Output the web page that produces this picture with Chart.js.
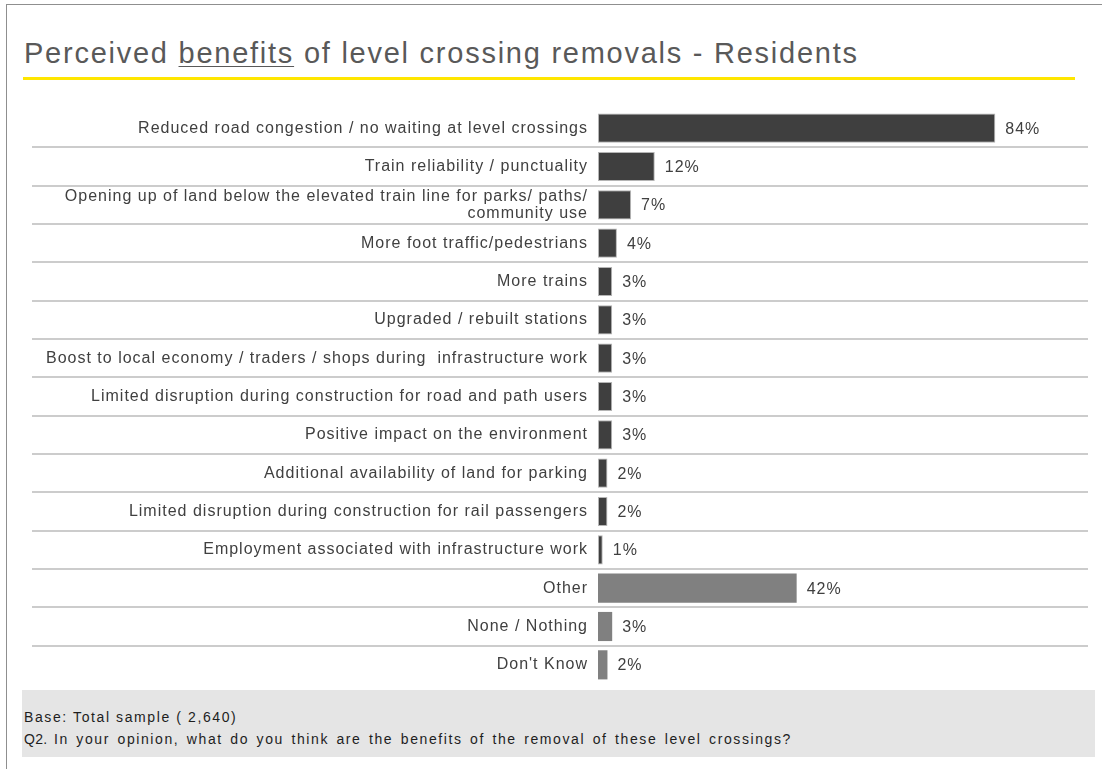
<!DOCTYPE html>
<html lang="en">
<head>
  <meta charset="UTF-8">
  <title>Perceived benefits of level crossing removals - Residents</title>
  <script src="https://cdn.jsdelivr.net/npm/chart.js"></script>
  <style>
    html, body { margin: 0; padding: 0; background: #fff; overflow: hidden; }
    body { width: 1102px; height: 769px; position: relative; font-family: "Liberation Sans", Arial, sans-serif; }
    .frame { position: absolute; left: 6px; top: 4px; width: 1200px; height: 900px; border-left: 1px solid #8f8f8f; border-top: 1px solid #8f8f8f; }
    .title { position: absolute; left: 24px; top: 37px; font-size: 29px; letter-spacing: 1.75px; color: #595959; white-space: nowrap; }
    .title u { text-decoration-thickness: 1px; text-underline-offset: 3px; }
    .rule { position: absolute; left: 23px; top: 77px; width: 1052px; height: 3px; background: #ffe600; }
    .note { position: absolute; left: 22px; top: 690px; width: 1073px; height: 67px; background: #e5e5e5; font-size: 14px; letter-spacing: 1.6px; color: #1e1e1e; }
    .note div { position: absolute; left: 2px; white-space: nowrap; }
    .note .q { word-spacing: 2px; }
    .note span { display: inline-block; width: 30px; letter-spacing: 0.3px; }
    #chart { position: absolute; left: 0; top: 0; }
  </style>
</head>
<body>
  <div class="frame"></div>
  <div class="title">Perceived <u>benefits</u> of level crossing removals - Residents</div>
  <div class="rule"></div>
  <canvas id="chart" width="1102" height="769"></canvas>
  <div class="note">
    <div style="top: 19px;">Base: Total sample ( 2,640)</div>
    <div class="q" style="top: 41px;"><span>Q2.</span>In your opinion, what do you think are the benefits of the removal of these level crossings?</div>
  </div>

  <script>
    // answers, in the order they are listed
    const categories = [
      'Reduced road congestion / no waiting at level crossings',
      'Train reliability / punctuality',
      ['Opening up of land below the elevated train line for parks/ paths/', 'community use'],
      'More foot traffic/pedestrians',
      'More trains',
      'Upgraded / rebuilt stations',
      'Boost to local economy / traders / shops during  infrastructure work',
      'Limited disruption during construction for road and path users',
      'Positive impact on the environment',
      'Additional availability of land for parking',
      'Limited disruption during construction for rail passengers',
      'Employment associated with infrastructure work',
      'Other',
      'None / Nothing',
      "Don't Know"
    ];

    // % of residents mentioning each benefit
    const percentages = [84, 12, 7, 4, 3, 3, 3, 3, 3, 2, 2, 1, 42, 3, 2];

    // answers that are not a named benefit get the lighter bar
    const otherAnswers = ['Other', 'None / Nothing', "Don't Know"];

    const FONT = '"Liberation Sans", Arial, sans-serif';
    const isOther = c => otherAnswers.includes(c);

    // thin rules between the rows, running under the labels too
    const rowRules = {
      id: 'rowRules',
      beforeDatasetsDraw(chart) {
        const { ctx, scales: { y } } = chart;
        ctx.save();
        ctx.strokeStyle = '#cccccc';
        ctx.lineWidth = 2;
        for (let i = 0; i < categories.length - 1; i++) {
          const yy = Math.round((y.getPixelForValue(i) + y.getPixelForValue(i + 1)) / 2);
          ctx.beginPath();
          ctx.moveTo(32, yy);
          ctx.lineTo(1088, yy);
          ctx.stroke();
        }
        ctx.restore();
      }
    };

    // "84%" etc. after the end of every bar
    const valueLabels = {
      id: 'valueLabels',
      afterDatasetsDraw(chart) {
        const { ctx } = chart;
        const meta = chart.getDatasetMeta(0);
        ctx.save();
        ctx.font = '16px ' + FONT;
        ctx.fillStyle = '#404040';
        ctx.textAlign = 'left';
        ctx.textBaseline = 'middle';
        meta.data.forEach((bar, i) => {
          ctx.fillText(percentages[i] + '%', bar.x + 10, bar.y + 1);
        });
        ctx.restore();
      }
    };

    // the text in this deck is set a little loose
    const spacing = {
      id: 'spacing',
      beforeDraw(chart) { chart.ctx.letterSpacing = '1px'; }
    };

    new Chart(document.getElementById('chart'), {
      type: 'bar',
      data: {
        labels: categories,
        datasets: [{
          data: percentages,
          backgroundColor: categories.map(c => isOther(c) ? '#808080' : '#3f3f3f'),
          borderColor: categories.map(c => isOther(c) ? '#808080' : '#b5b5b5'),
          borderWidth: categories.map(c => isOther(c) ? 0 : 1),
          borderSkipped: false,
          barPercentage: 0.76,
          categoryPercentage: 1
        }]
      },
      options: {
        indexAxis: 'y',
        responsive: false,
        animation: false,
        devicePixelRatio: 1,
        layout: { padding: { left: 0, top: 109, right: 31, bottom: 85 } },
        plugins: {
          legend: { display: false },
          tooltip: { enabled: false }
        },
        scales: {
          x: { display: false, min: 0, max: 100 },
          y: {
            afterFit(scale) { scale.width = 598; },
            grid: { display: false, drawTicks: false },
            border: { display: false },
            ticks: {
              autoSkip: false,
              padding: 10,
              color: '#404040',
              font: { family: FONT, size: 16, lineHeight: 1.05 }
            }
          }
        }
      },
      plugins: [spacing, rowRules, valueLabels]
    });
  </script>
</body>
</html>
